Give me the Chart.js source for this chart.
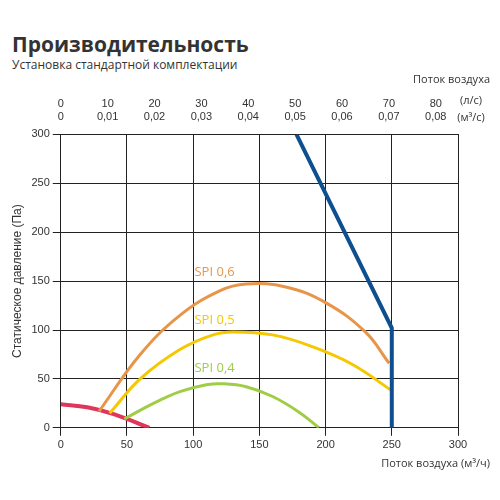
<!DOCTYPE html>
<html><head><meta charset="utf-8">
<script src="https://cdn.jsdelivr.net/npm/chart.js@4"></script>
<style>body{margin:0;background:#fff;font-family:"Open Sans",sans-serif}
#t{position:absolute;left:12px;top:30px;font-size:21px;font-weight:bold;color:#333}
#s{position:absolute;left:12px;top:56px;font-size:12px;color:#333}
#w{position:absolute;left:0;top:70px;width:500px;height:430px}</style></head>
<body><div id="t">Производительность</div><div id="s">Установка стандартной комплектации</div>
<div id="w"><canvas id="c"></canvas></div>
<script>
const xTicks=[0,50,100,150,200,250,300];
const yTicks=[0,50,100,150,200,250,300];
const lsTicks=[0,10,20,30,40,50,60,70,80];
const m3sTicks=["0","0,01","0,02","0,03","0,04","0,05","0,06","0,07","0,08"];
const lsFactor=3.54;
const fanX=[178,250,250];const fanY=[300,102,0];
const spi6X=[29,60,90,120,140,170,200,230,248];const spi6Y=[17,75,115,140,147,144,128,98,66];
const spi5X=[37,60,90,115,130,160,190,220,250];const spi5Y=[15,50,80,95,98,95,83,65,38];
const spi4X=[48,70,90,110,122,140,160,180,195];const spi4Y=[9,25,37,44,45,42,32,16,0];
const redX=[0,20,40,67];const redY=[24,21,14,0];
const pts=(a,b)=>a.map((x,i)=>({x,y:b[i]}));
const labels=[["SPI 0,6",101,155,"#e8954a"],["SPI 0,5",101,106,"#f5c800"],["SPI 0,4",101,57,"#9fcd45"]];
const txt={id:'txt',afterDraw(c){const g=c.ctx,xs=c.scales.x,ys=c.scales.y;g.save();g.font='13px "Open Sans"';
labels.forEach(l=>{g.fillStyle=l[3];g.fillText(l[0],xs.getPixelForValue(l[1]),ys.getPixelForValue(l[2]));});
g.fillStyle='#333';g.font='11px "Open Sans"';g.textAlign='center';
g.fillText('(л/с)',471,34);
g.fillText('(м³/с)',471,51);
g.textAlign='right';g.fillText('Поток воздуха',490,13);
g.fillText('Поток воздуха (м³/ч)',490,397);g.restore();}};
const ds=(d,col,w)=>({data:d,borderColor:col,borderWidth:w,showLine:true,pointRadius:0,tension:0.4,fill:false});
new Chart(document.getElementById('c'),{type:'scatter',
data:{datasets:[ds(pts(fanX,fanY),'#0d4f8f',4),ds(pts(spi6X,spi6Y),'#e8954a',3),ds(pts(spi5X,spi5Y),'#f5c800',3),ds(pts(spi4X,spi4Y),'#9fcd45',3),ds(pts(redX,redY),'#e0365a',4)].map((d,i)=>{if(i==0)d.tension=0;return d;})},
options:{animation:false,responsive:true,maintainAspectRatio:false,
layout:{padding:{left:6,right:42,top:24,bottom:45}},
plugins:{legend:{display:false},tooltip:{enabled:false}},
scales:{x:{type:'linear',min:0,max:300,afterBuildTicks:a=>{a.ticks=xTicks.map(v=>({value:v}))},
grid:{color:'#222',lineWidth:1},border:{color:'#222'},ticks:{color:'#333',font:{size:11}}},
x2:{type:'linear',position:'top',min:0,max:300,afterBuildTicks:a=>{a.ticks=lsTicks.map(v=>({value:v*lsFactor}))},
grid:{display:false},border:{color:'#222'},ticks:{color:'#333',font:{size:11},callback:(v)=>{const i=lsTicks.indexOf(Math.round(v/lsFactor));return [String(lsTicks[i]),m3sTicks[i]];}}},
y:{min:0,max:300,afterBuildTicks:a=>{a.ticks=yTicks.map(v=>({value:v}))},
grid:{color:'#222'},border:{color:'#222'},ticks:{color:'#333',font:{size:11}},
title:{display:true,text:'Статическое давление (Па)',color:'#333',font:{size:12}}}}},
plugins:[txt]});
</script></body></html>
